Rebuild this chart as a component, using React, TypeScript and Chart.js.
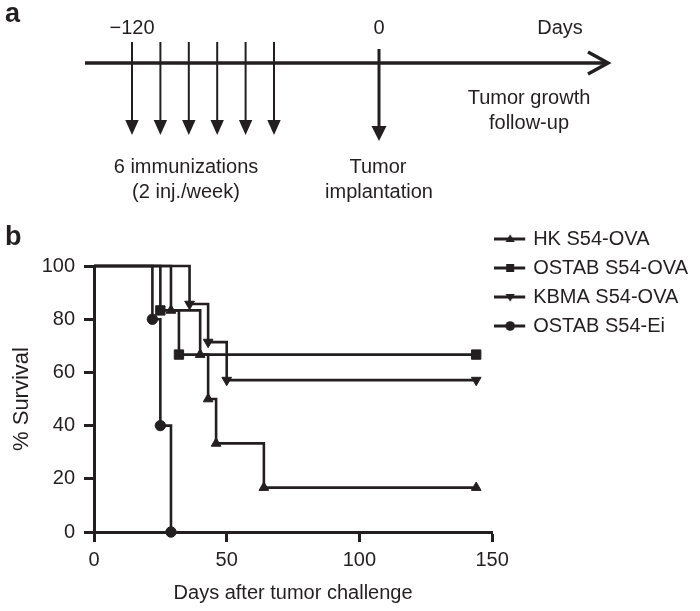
import React, { useEffect, useRef } from 'react';
import { Chart, registerables } from 'chart.js';

Chart.register(...registerables);

// ---------- Panel b data (Kaplan-Meier survival) ----------
const seriesLabels = ['HK S54-OVA', 'OSTAB S54-OVA', 'KBMA S54-OVA', 'OSTAB S54-Ei'];
const hkDays = [0, 29, 40, 43, 46, 64, 144];
const hkSurvival = [100, 83.3, 66.7, 50, 33.3, 16.7, 16.7];
const ostabOvaDays = [0, 25, 32, 144];
const ostabOvaSurvival = [100, 83.3, 66.7, 66.7];
const kbmaDays = [0, 36, 43, 50, 144];
const kbmaSurvival = [100, 85.7, 71.4, 57.1, 57.1];
const ostabEiDays = [0, 22, 25, 29];
const ostabEiSurvival = [100, 80, 40, 0];
const xTickValues = [0, 50, 100, 150];
const yTickValues = [0, 20, 40, 60, 80, 100];
const xTitle = 'Days after tumor challenge';
const yTitle = '% Survival';

// ---------- Panel a text (timeline schematic) ----------
const timelineStartLabel = '\u2212120';
const timelineZeroLabel = '0';
const timelineUnitLabel = 'Days';
const immunizationCount = 6;
const immunizationText = ['6 immunizations', '(2 inj./week)'];
const implantationText = ['Tumor', 'implantation'];
const followUpText = ['Tumor growth', 'follow-up'];

const INK = '#231f20';
const FONT = '"Liberation Sans", Arial, Helvetica, sans-serif';

type MarkerKind = 'triangle' | 'rect' | 'triangleDown' | 'circle';
const markerKinds: MarkerKind[] = ['triangle', 'rect', 'triangleDown', 'circle'];

function drawMarker(ctx: CanvasRenderingContext2D, kind: MarkerKind, x: number, y: number, r: number) {
  ctx.beginPath();
  if (kind === 'circle') {
    ctx.arc(x, y, r, 0, Math.PI * 2);
  } else if (kind === 'rect') {
    ctx.rect(x - r, y - r, 2 * r, 2 * r);
  } else if (kind === 'triangle') {
    ctx.moveTo(x, y - r);
    ctx.lineTo(x + r * 0.95, y + r * 0.65);
    ctx.lineTo(x - r * 0.95, y + r * 0.65);
    ctx.closePath();
  } else {
    ctx.moveTo(x, y + r);
    ctx.lineTo(x + r * 0.95, y - r * 0.65);
    ctx.lineTo(x - r * 0.95, y - r * 0.65);
    ctx.closePath();
  }
  ctx.fill();
}

function makeLegendIcon(kind: MarkerKind): HTMLCanvasElement {
  const c = document.createElement('canvas');
  c.width = 36;
  c.height = 14;
  const g = c.getContext('2d')!;
  g.strokeStyle = INK;
  g.fillStyle = INK;
  g.lineWidth = 3;
  g.beginPath();
  g.moveTo(0, 7);
  g.lineTo(31, 7);
  g.stroke();
  const r = kind === 'rect' ? 4 : 4.8;
  drawMarker(g, kind, 16, 7, r);
  return c;
}

function drawDownArrow(
  ctx: CanvasRenderingContext2D,
  x: number,
  yTop: number,
  yTip: number,
  lw: number,
  headLen: number,
  headHalf: number
) {
  ctx.lineWidth = lw;
  ctx.beginPath();
  ctx.moveTo(x, yTop);
  ctx.lineTo(x, yTip - headLen + 1);
  ctx.stroke();
  ctx.beginPath();
  ctx.moveTo(x, yTip);
  ctx.lineTo(x - headHalf, yTip - headLen);
  ctx.lineTo(x + headHalf, yTip - headLen);
  ctx.closePath();
  ctx.fill();
}

const panelPlugin = {
  id: 'panelA',
  afterDraw(chart: any) {
    const ctx: CanvasRenderingContext2D = chart.ctx;
    ctx.save();
    ctx.fillStyle = INK;
    ctx.strokeStyle = INK;

    // panel letters
    ctx.font = `bold 27px ${FONT}`;
    ctx.textAlign = 'left';
    ctx.textBaseline = 'alphabetic';
    ctx.fillText('a', 5, 22);
    ctx.fillText('b', 5, 245);

    // timeline axis
    ctx.lineWidth = 3.5;
    ctx.lineCap = 'butt';
    ctx.beginPath();
    ctx.moveTo(85, 63);
    ctx.lineTo(606, 63);
    ctx.stroke();
    ctx.lineJoin = 'miter';
    ctx.beginPath();
    ctx.moveTo(588, 52);
    ctx.lineTo(608, 63);
    ctx.lineTo(588, 74);
    ctx.stroke();

    // immunization arrows
    for (let i = 0; i < immunizationCount; i++) {
      const x = 132 + i * 28.4;
      drawDownArrow(ctx, x, 42, 135, 2, 15, 6.7);
    }
    // implantation arrow
    drawDownArrow(ctx, 379, 49, 141, 3, 15, 7.5);

    // texts
    ctx.font = `20px ${FONT}`;
    ctx.textAlign = 'center';
    ctx.textBaseline = 'middle';
    ctx.fillText(timelineStartLabel, 132, 28);
    ctx.fillText(timelineZeroLabel, 379, 28);
    ctx.fillText(timelineUnitLabel, 560, 28);
    ctx.fillText(followUpText[0], 529, 98);
    ctx.fillText(followUpText[1], 529, 123);
    ctx.fillText(immunizationText[0], 186, 167);
    ctx.fillText(immunizationText[1], 186, 192);
    ctx.fillText(implantationText[0], 378, 167);
    ctx.fillText(implantationText[1], 379, 192);
    ctx.restore();
  },
};

const pointStyleFor: Record<MarkerKind, { style: string; rotation: number; radius: number }> = {
  triangle: { style: 'triangle', rotation: 0, radius: 5.6 },
  rect: { style: 'rect', rotation: 0, radius: 6.6 },
  triangleDown: { style: 'triangle', rotation: 180, radius: 5.6 },
  circle: { style: 'circle', rotation: 0, radius: 5.2 },
};

export default function App() {
  const canvasRef = useRef<HTMLCanvasElement | null>(null);

  useEffect(() => {
    const canvas = canvasRef.current;
    if (!canvas) return;
    const icons = markerKinds.map((k) => makeLegendIcon(k));
    const daysList = [hkDays, ostabOvaDays, kbmaDays, ostabEiDays];
    const survList = [hkSurvival, ostabOvaSurvival, kbmaSurvival, ostabEiSurvival];

    const datasets = seriesLabels.map((label, i) => {
      const ps = pointStyleFor[markerKinds[i]];
      return {
        label,
        data: daysList[i].map((d, j) => ({ x: d, y: survList[i][j] })),
        stepped: 'before' as const,
        borderColor: INK,
        backgroundColor: INK,
        borderWidth: 2.6,
        fill: false,
        tension: 0,
        pointStyle: ps.style,
        rotation: ps.rotation,
        pointRotation: ps.rotation,
        pointRadius: daysList[i].map((_, j) => (j === 0 ? 0 : ps.radius)),
        pointBackgroundColor: INK,
        pointBorderColor: INK,
        pointBorderWidth: 1,
        clip: false as any,
      };
    });

    const chart = new Chart(canvas, {
      type: 'line',
      data: { datasets: datasets as any },
      options: {
        responsive: false,
        animation: false,
        events: [],
        layout: { padding: { top: 220, left: 0, right: 2, bottom: 0 } },
        plugins: {
          tooltip: { enabled: false },
          title: {
            display: true,
            text: ' ',
            position: 'top',
            fullSize: false,
            font: { size: 20, family: FONT },
            padding: { top: 22, bottom: 0 },
          },
          legend: {
            display: true,
            position: 'right',
            align: 'start',
            fullSize: true,
            maxWidth: 230,
            labels: {
              usePointStyle: true,
              pointStyleWidth: 22,
              boxHeight: 20,
              padding: 9,
              color: INK,
              font: { size: 20, family: FONT },
              generateLabels: (ch: any) =>
                ch.data.datasets.map((ds: any, i: number) => ({
                  text: ds.label,
                  pointStyle: icons[i],
                  fillStyle: INK,
                  strokeStyle: INK,
                  lineWidth: 0,
                  hidden: false,
                  datasetIndex: i,
                  fontColor: INK,
                })),
            },
          } as any,
        },
        scales: {
          x: {
            type: 'linear',
            position: 'bottom',
            min: 0,
            max: 150,
            afterFit: (s: any) => {
              s.height = 79;
            },
            afterBuildTicks: (s: any) => {
              s.ticks = xTickValues.map((v) => ({ value: v }));
            },
            grid: {
              drawOnChartArea: false,
              drawTicks: true,
              tickLength: 10,
              tickWidth: 3,
              tickColor: INK,
            },
            border: { display: true, width: 3, color: INK },
            ticks: {
              color: INK,
              padding: 6,
              maxRotation: 0,
              autoSkip: false,
              font: { size: 20, family: FONT },
            },
            title: {
              display: true,
              text: xTitle,
              color: INK,
              font: { size: 20, family: FONT },
              padding: { top: 0, bottom: 6 },
            },
          },
          y: {
            type: 'linear',
            position: 'left',
            min: 0,
            max: 100,
            afterFit: (s: any) => {
              s.width = 94;
            },
            afterBuildTicks: (s: any) => {
              s.ticks = yTickValues.map((v) => ({ value: v }));
            },
            grid: {
              drawOnChartArea: false,
              drawTicks: true,
              tickLength: 10,
              tickWidth: 3,
              tickColor: INK,
            },
            border: { display: true, width: 3, color: INK },
            ticks: {
              color: INK,
              padding: 9,
              autoSkip: false,
              font: { size: 20, family: FONT },
            },
            title: {
              display: true,
              text: yTitle,
              color: INK,
              font: { size: 22, family: FONT },
              padding: { top: 9, bottom: 0 },
            },
          },
        },
      },
      plugins: [panelPlugin],
    });

    return () => {
      chart.destroy();
    };
  }, []);

  return (
    <div style={{ position: 'absolute', left: 0, top: 0, width: 700, height: 611, background: '#fff' }}>
      <canvas ref={canvasRef} width={700} height={611} style={{ display: 'block', width: 700, height: 611 }} />
    </div>
  );
}
